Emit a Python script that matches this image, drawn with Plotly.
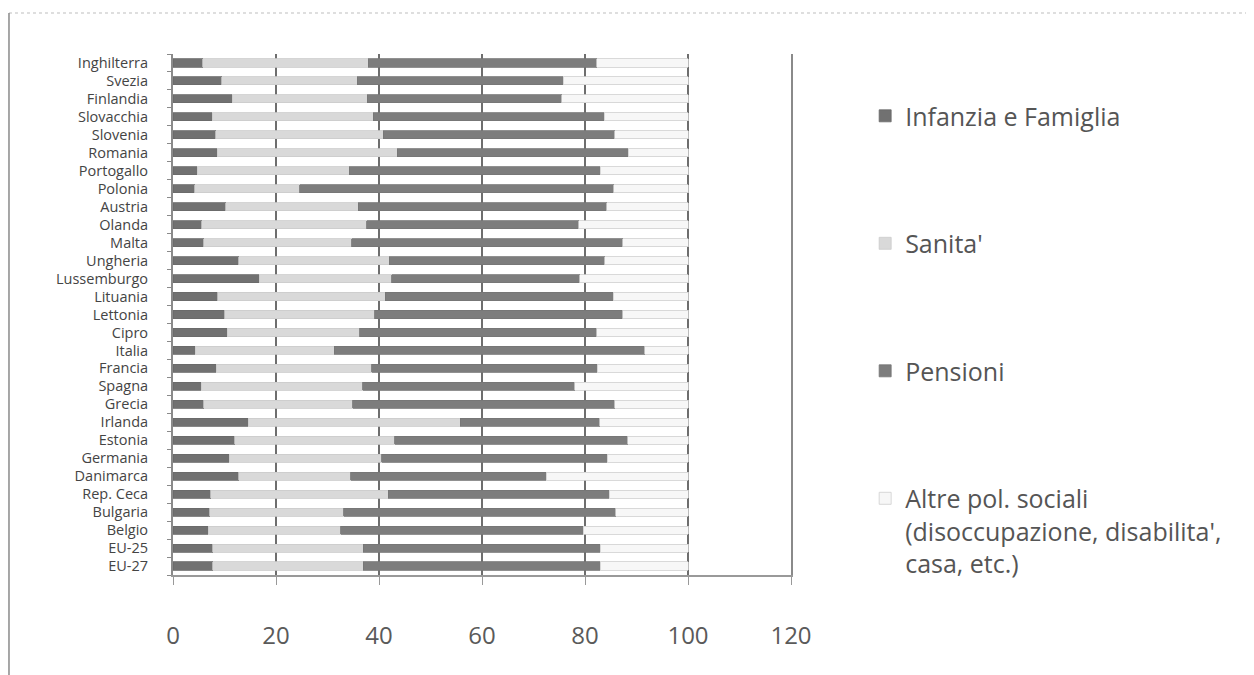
import plotly.graph_objects as go

paesi = ["Inghilterra", "Svezia", "Finlandia", "Slovacchia", "Slovenia", "Romania",
         "Portogallo", "Polonia", "Austria", "Olanda", "Malta", "Ungheria",
         "Lussemburgo", "Lituania", "Lettonia", "Cipro", "Italia", "Francia",
         "Spagna", "Grecia", "Irlanda", "Estonia", "Germania", "Danimarca",
         "Rep. Ceca", "Bulgaria", "Belgio", "EU-25", "EU-27"]

infanzia_famiglia = [5.8, 9.5, 11.5, 7.6, 8.3, 8.6, 4.7, 4.2, 10.2, 5.6, 6.0, 12.8,
                     16.7, 8.7, 10.0, 10.5, 4.3, 8.4, 5.5, 6.0, 14.6, 12.0, 10.9, 12.8,
                     7.3, 7.1, 6.8, 7.7, 7.7]
sanita = [32.1, 26.3, 26.2, 31.3, 32.5, 34.9, 29.5, 20.4, 25.8, 32.0, 28.7, 29.2,
          25.8, 32.5, 29.2, 25.8, 27.0, 30.2, 31.3, 28.9, 41.2, 31.1, 29.6, 21.7,
          34.5, 26.1, 25.8, 29.2, 29.2]
pensioni = [44.4, 40.0, 37.8, 44.8, 45.0, 44.9, 48.8, 61.0, 48.2, 41.2, 52.6, 41.8,
            36.5, 44.3, 48.1, 46.0, 60.3, 43.8, 41.2, 50.9, 27.1, 45.2, 43.8, 38.0,
            42.9, 52.8, 47.1, 46.1, 46.1]
altre = [17.7, 24.2, 24.5, 16.3, 14.2, 11.6, 17.0, 14.4, 15.8, 21.2, 12.7, 16.2,
         21.0, 14.5, 12.7, 17.7, 8.4, 17.6, 22.0, 14.2, 17.1, 11.7, 15.7, 27.5,
         15.3, 14.0, 20.3, 17.0, 17.0]

serie_nomi = ["Infanzia e Famiglia", "Sanita'", "Pensioni",
              "Altre pol. sociali<br>(disoccupazione, disabilita',<br>casa, etc.)"]
serie_valori = [infanzia_famiglia, sanita, pensioni, altre]
serie_colori = ["#717171", "#d9d9d9", "#7d7d7d", "#f7f7f7"]
serie_bordi = ["#6a6a6a", "#cbcbcb", "#757575", "#cfcfcf"]

fig = go.Figure()
for i, (nome, vals, col, bordo) in enumerate(zip(serie_nomi, serie_valori, serie_colori, serie_bordi)):
    fig.add_trace(go.Bar(
        y=paesi, x=vals, name=nome, orientation="h",
        marker=dict(color=col, line=dict(color=bordo, width=0.8)),
        legendgroup="g%d" % i, legendrank=i + 1,
    ))

fig.update_layout(
    barmode="stack",
    bargap=0.55,
    width=1254, height=675,
    margin=dict(l=165, r=471, t=46, b=108),
    paper_bgcolor="white", plot_bgcolor="white",
    font=dict(family="Open Sans", color="#555555"),
    showlegend=True,
    legend=dict(
        x=1.12, y=0.925, xanchor="left", yanchor="top",
        traceorder="grouped", tracegroupgap=92, valign="top",
        font=dict(size=25, color="#555555", family="Open Sans"),
        itemclick=False,
    ),
    xaxis=dict(
        range=[0, 120], dtick=20, tick0=0,
        showgrid=True, gridcolor="#6e6e6e", gridwidth=2,
        showline=True, linecolor="#999999", linewidth=1.5,
        ticks="outside", ticklen=8, tickcolor="#999999",
        tickfont=dict(size=24, color="#5a5a5a"),
        ticklabelstandoff=30,
        zeroline=False,
    ),
    yaxis=dict(
        autorange="reversed",
        tickmode="array", tickvals=paesi, ticktext=paesi,
        showline=True, mirror=True, linecolor="#8a8a8a", linewidth=2,
        ticks="outside", ticklen=4, tickcolor="#8a8a8a", tickson="boundaries",
        tickfont=dict(size=14.5, color="#444444"),
        ticklabelstandoff=20,
        showgrid=False,
    ),
)

# cornice dell'immagine
fig.add_shape(type="line", xref="paper", yref="paper",
              x0=-0.2654, x1=1.751, y0=1.0787, y1=1.0787,
              line=dict(color="#bdbdbd", width=1.2, dash="dot"))
fig.add_shape(type="line", xref="paper", yref="paper",
              x0=-0.2654, x1=-0.2654, y0=1.0787, y1=-0.2,
              line=dict(color="#8a8a8a", width=1.5))

fig.write_html("out.html")
